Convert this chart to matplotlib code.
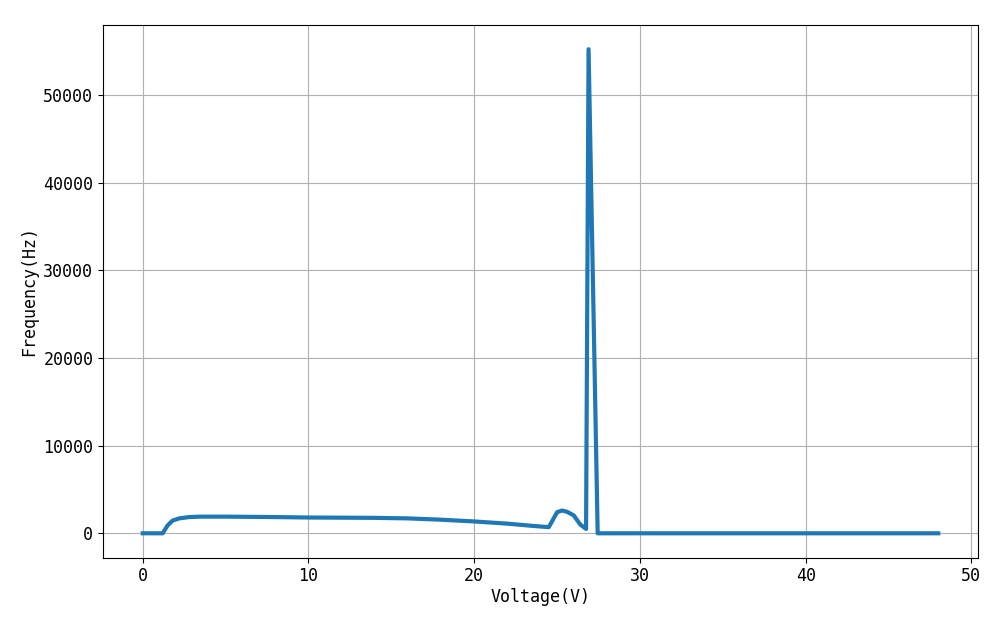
import matplotlib
matplotlib.use("Agg")
import matplotlib.pyplot as plt

# values
voltage = [0.0, 1.0, 1.2, 1.5, 1.8, 2.2, 2.8, 3.5, 5.0, 8.0, 10.0, 12.0, 14.0,
           16.0, 18.0, 20.0, 22.0, 23.5, 24.5, 25.0, 25.3, 25.6, 26.0, 26.4,
           26.75, 26.9, 27.45, 28.0, 35.0, 48.0]
frequency = [0, 0, 0, 900, 1450, 1700, 1850, 1900, 1900, 1850, 1800, 1780, 1760,
             1700, 1550, 1350, 1100, 850, 700, 2400, 2600, 2450, 2050, 1000,
             500, 55200, 0, 0, 0, 0]

plt.rcParams["font.family"] = ["DejaVu Sans Mono"]

fig, ax = plt.subplots(figsize=(10, 6.25), dpi=100)
fig.subplots_adjust(left=0.103, right=0.978, top=0.96, bottom=0.108)

ax.plot(voltage, frequency, color="#1f77b4", linewidth=3)
ax.grid(True)

ax.set_xlabel("Voltage(V)", fontsize=12, labelpad=2)
ax.set_ylabel("Frequency(Hz)", fontsize=12, labelpad=4)
ax.tick_params(labelsize=12)

fig.savefig("out.png")
